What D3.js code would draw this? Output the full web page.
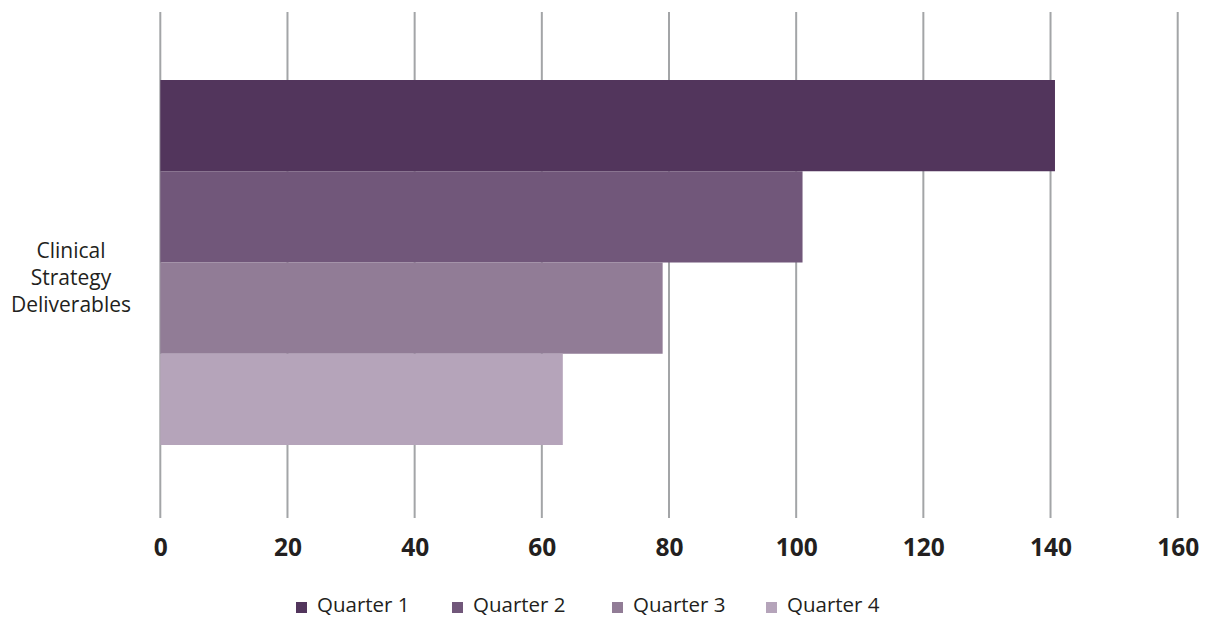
<!DOCTYPE html>
<html><head><meta charset="utf-8">
<script src="https://cdn.jsdelivr.net/npm/d3@7"></script>
<style>body{margin:0;background:#fff}svg{display:block}</style>
</head><body>
<script>
const categories = ["Clinical Strategy Deliverables"];
const seriesNames = ["Quarter 1", "Quarter 2", "Quarter 3", "Quarter 4"];
const seriesValues = [140.7, 101, 79, 63.3];
const seriesColors = ["#52355c", "#71577a", "#917c96", "#b5a4ba"];
const tickValues = [0, 20, 40, 60, 80, 100, 120, 140, 160];

const W = 1208, H = 619;
const svg = d3.select("body").append("svg").attr("width", W).attr("height", H);
const font = "'Open Sans', 'Noto Sans', sans-serif";

const x = d3.scaleLinear().domain([0, 160]).range([160.3, 1177.7]);
const y = d3.scaleBand().domain(categories).range([12, 518]);
const inner = d3.scaleBand().domain(seriesNames).range([80, 445]).padding(0);

// gridlines
svg.append("g").selectAll("line").data(tickValues).join("line")
  .attr("x1", d => x(d)).attr("x2", d => x(d))
  .attr("y1", 12).attr("y2", 518)
  .attr("stroke", "#a3a5a7").attr("stroke-width", 2);

// bars
const data = seriesNames.map((s, i) => ({s, v: seriesValues[i], c: seriesColors[i]}));
svg.append("g").selectAll("rect").data(data).join("rect")
  .attr("x", x(0)).attr("y", d => inner(d.s))
  .attr("width", d => x(d.v) - x(0)).attr("height", inner.bandwidth())
  .attr("fill", d => d.c);

// x axis labels
const axis = d3.axisBottom(x).tickValues(tickValues).tickSize(0).tickPadding(0);
const ag = svg.append("g").attr("transform", "translate(0,556)").call(axis);
ag.select(".domain").remove();
ag.selectAll("text").attr("dy", 0).attr("y", 0)
  .attr("font-family", font).attr("font-weight", "bold").attr("font-size", 24.5).attr("fill", "#231f20");

// category label
const lines = ["Clinical", "Strategy", "Deliverables"];
const ct = svg.append("text").attr("text-anchor", "middle")
  .attr("font-family", font).attr("font-size", 21).attr("fill", "#231f20");
lines.forEach((l, i) => ct.append("tspan").attr("x", 71).attr("y", 258 + i * 27).text(l));

// legend
const lg = svg.append("g");
const starts = [296, 452, 612, 766];
data.forEach((d, i) => {
  const g = lg.append("g").attr("transform", `translate(${starts[i]},0)`);
  g.append("rect").attr("x", 0).attr("y", 602).attr("width", 11).attr("height", 11).attr("fill", d.c);
  g.append("text").attr("x", 21).attr("y", 612).attr("font-family", font).attr("font-size", 20.5)
    .attr("fill", "#231f20").text(d.s);
});
</script>
</body></html>
